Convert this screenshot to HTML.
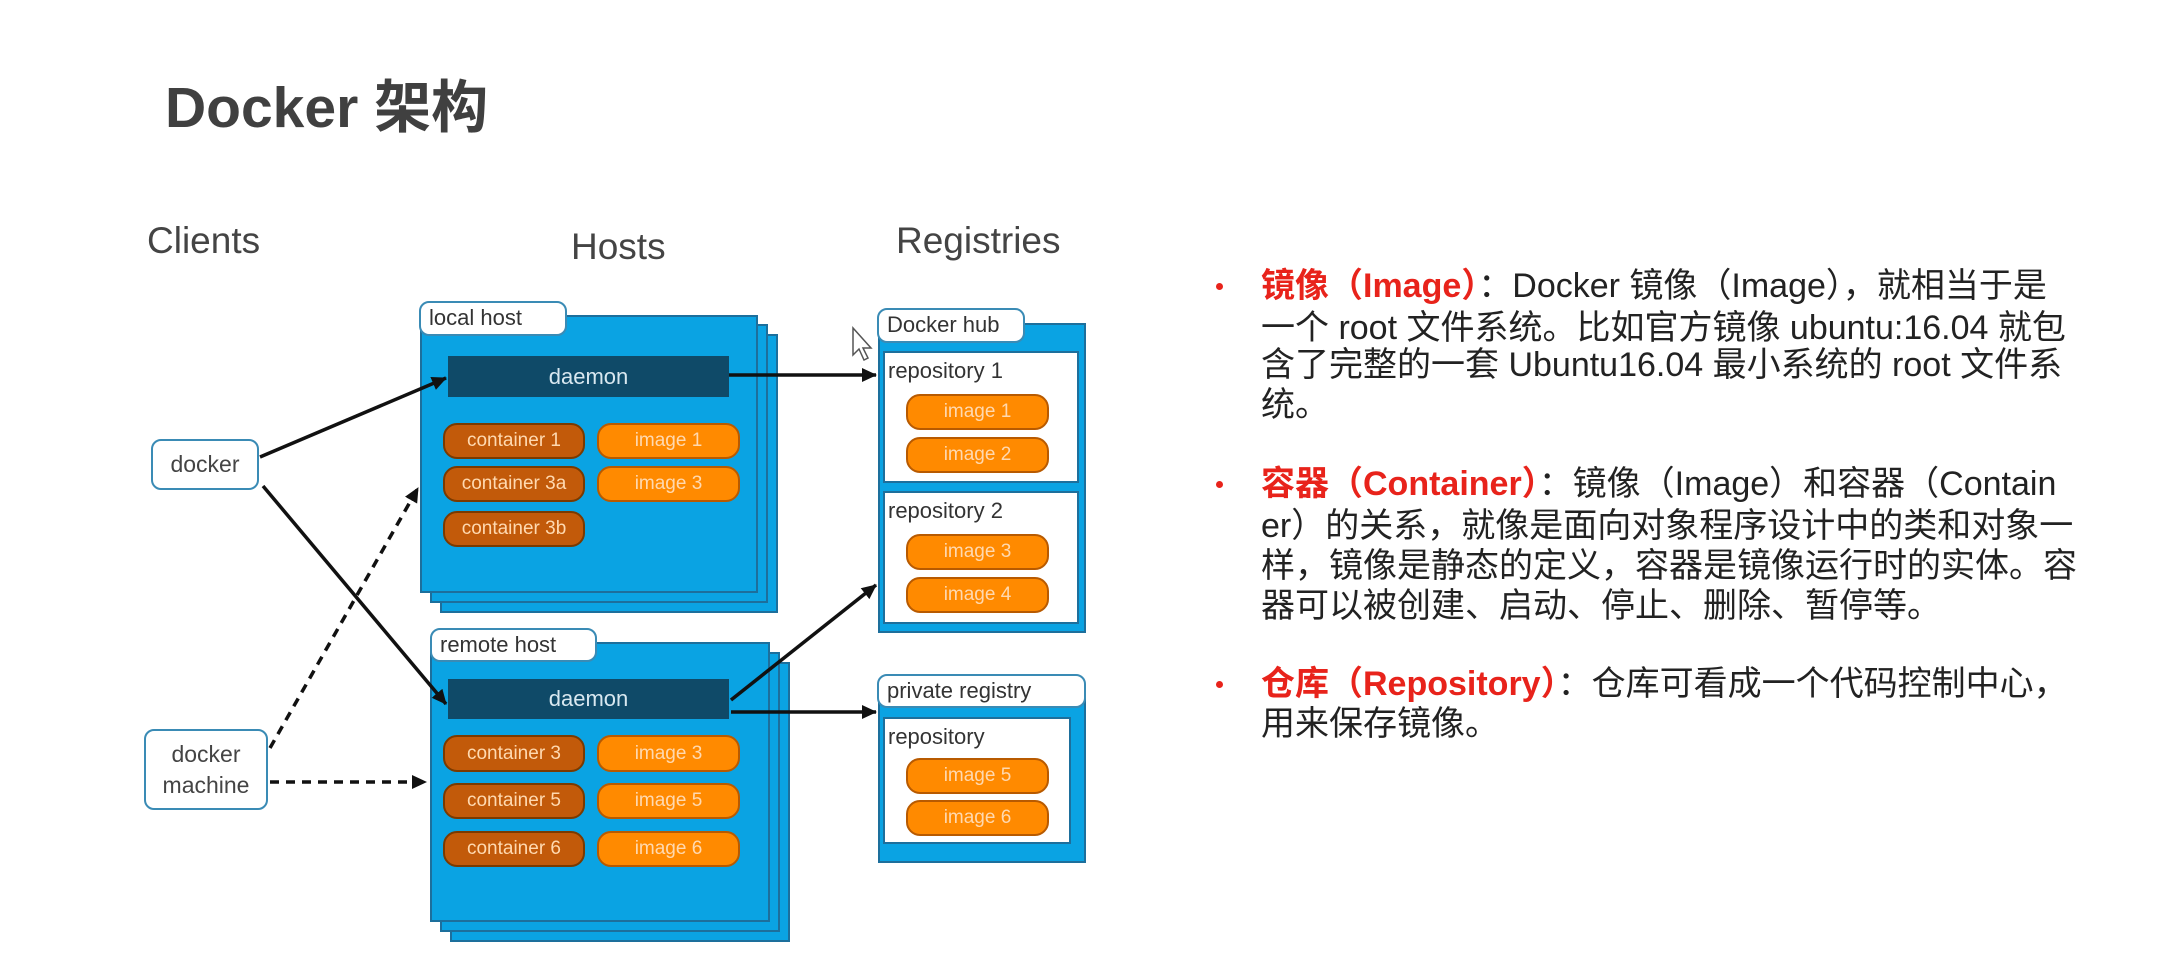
<!DOCTYPE html>
<html><head><meta charset="utf-8"><style>
*{margin:0;padding:0;box-sizing:border-box}
body{width:2164px;height:978px;background:#fff;position:relative;overflow:hidden;font-family:"Liberation Sans","Noto Sans CJK SC",sans-serif}
.a{position:absolute}
.blue{position:absolute;background:#0aa3e3;border:2px solid #1d6f9c}
.tab{position:absolute;background:#fff;border:2px solid #3a8bb5;border-radius:10px;font-size:22px;color:#333;padding-left:8px;line-height:30px}
.dm{position:absolute;background:#0f4a68;color:#d8e8f0;font-size:22px;text-align:center}
.pill{position:absolute;border-radius:14px;color:#ffd9b0;font-size:19px;text-align:center;border:2px solid #7a3a00}
.c{background:#c25a0a}
.i{background:#ff8a00;border-color:#b85a00}
.wb{position:absolute;background:#fff;border:2px solid #1d6f9c}
.lbl{position:absolute;font-size:22px;color:#333}
.cl{position:absolute;background:#fff;border:2px solid #3a8bb5;border-radius:10px;font-size:23px;color:#444;text-align:center}
.hd{position:absolute;font-size:37px;color:#444}
.t{position:absolute;left:1261px;font-size:34px;line-height:50px;color:#222;white-space:nowrap;font-family:"Liberation Sans","Noto Sans CJK SC",sans-serif;letter-spacing:0px}
.r{color:#e8231b;font-weight:bold}
.b{position:absolute;left:1216px;width:7px;height:7px;background:#e8231b;border-radius:50%}
</style></head><body>
<div class="a" style="left:165px;top:62px;font-size:57px;font-weight:bold;color:#404040;white-space:nowrap">Docker 架构</div>

<div class="hd" style="left:147px;top:220px">Clients</div>
<div class="hd" style="left:571px;top:226px">Hosts</div>
<div class="hd" style="left:896px;top:220px">Registries</div>

<div class="blue" style="left:440px;top:334px;width:338px;height:279px"></div>
<div class="blue" style="left:430px;top:324px;width:338px;height:279px"></div>
<div class="blue" style="left:420px;top:315px;width:338px;height:278px"></div>
<div class="tab" style="left:419px;top:301px;width:148px;height:35px">local host</div>
<div class="dm" style="left:448px;top:356px;width:281px;height:41px;line-height:41px">daemon</div>
<div class="pill c" style="left:443px;top:423px;width:142px;height:36px;line-height:32px">container 1</div>
<div class="pill i" style="left:597px;top:423px;width:143px;height:36px;line-height:32px">image 1</div>
<div class="pill c" style="left:443px;top:466px;width:142px;height:36px;line-height:32px">container 3a</div>
<div class="pill i" style="left:597px;top:466px;width:143px;height:36px;line-height:32px">image 3</div>
<div class="pill c" style="left:443px;top:511px;width:142px;height:36px;line-height:32px">container 3b</div>

<div class="blue" style="left:450px;top:662px;width:340px;height:280px"></div>
<div class="blue" style="left:440px;top:652px;width:340px;height:280px"></div>
<div class="blue" style="left:430px;top:642px;width:340px;height:280px"></div>
<div class="tab" style="left:430px;top:628px;width:167px;height:34px">remote host</div>
<div class="dm" style="left:448px;top:679px;width:281px;height:40px;line-height:40px">daemon</div>
<div class="pill c" style="left:443px;top:735px;width:142px;height:37px;line-height:33px">container 3</div>
<div class="pill i" style="left:597px;top:735px;width:143px;height:37px;line-height:33px">image 3</div>
<div class="pill c" style="left:443px;top:783px;width:142px;height:36px;line-height:32px">container 5</div>
<div class="pill i" style="left:597px;top:783px;width:143px;height:36px;line-height:32px">image 5</div>
<div class="pill c" style="left:443px;top:831px;width:142px;height:36px;line-height:32px">container 6</div>
<div class="pill i" style="left:597px;top:831px;width:143px;height:36px;line-height:32px">image 6</div>

<div class="blue" style="left:878px;top:323px;width:208px;height:310px"></div>
<div class="tab" style="left:877px;top:308px;width:148px;height:35px">Docker hub</div>
<div class="wb" style="left:883px;top:351px;width:196px;height:132px"></div>
<div class="lbl" style="left:888px;top:358px">repository 1</div>
<div class="pill i" style="left:906px;top:394px;width:143px;height:36px;line-height:32px">image 1</div>
<div class="pill i" style="left:906px;top:437px;width:143px;height:36px;line-height:32px">image 2</div>
<div class="wb" style="left:883px;top:491px;width:196px;height:133px"></div>
<div class="lbl" style="left:888px;top:498px">repository 2</div>
<div class="pill i" style="left:906px;top:534px;width:143px;height:36px;line-height:32px">image 3</div>
<div class="pill i" style="left:906px;top:577px;width:143px;height:36px;line-height:32px">image 4</div>

<div class="blue" style="left:878px;top:690px;width:208px;height:173px"></div>
<div class="tab" style="left:877px;top:674px;width:209px;height:34px">private registry</div>
<div class="wb" style="left:883px;top:717px;width:188px;height:127px"></div>
<div class="lbl" style="left:888px;top:724px">repository</div>
<div class="pill i" style="left:906px;top:758px;width:143px;height:36px;line-height:32px">image 5</div>
<div class="pill i" style="left:906px;top:800px;width:143px;height:36px;line-height:32px">image 6</div>

<div class="cl" style="left:151px;top:439px;width:108px;height:51px;line-height:47px">docker</div>
<div class="cl" style="left:144px;top:729px;width:124px;height:81px;line-height:31px;padding-top:8px">docker<br>machine</div>

<svg class="a" style="left:0;top:0" width="2164" height="978">
<defs>
<marker id="M" markerWidth="16" markerHeight="16" refX="14" refY="8" orient="auto" markerUnits="userSpaceOnUse"><path d="M0,1 L15,8 L0,15z" fill="#111"/></marker></defs>
<g stroke="#111" stroke-width="3.5" fill="none">
<line x1="260" y1="457" x2="446" y2="378" marker-end="url(#M)"/>
<line x1="263" y1="486" x2="446" y2="704" marker-end="url(#M)"/>
<line x1="270" y1="748" x2="418" y2="488" stroke-dasharray="9,7" marker-end="url(#M)"/>
<line x1="270" y1="782" x2="426" y2="782" stroke-dasharray="9,7" marker-end="url(#M)"/>
<line x1="729" y1="375" x2="876" y2="375" marker-end="url(#M)"/>
<line x1="731" y1="700" x2="876" y2="585" marker-end="url(#M)"/>
<line x1="731" y1="712" x2="876" y2="712" marker-end="url(#M)"/>
</g>
<path d="M853,328 l0,27 l6,-6 l5,11 l4,-2 l-5,-10 l8,0z" fill="#fff" stroke="#555" stroke-width="1.5"/>
</svg>

<div class="b" style="top:283px"></div>
<div class="t" style="top:261px"><span class="r">镜像（Image）</span>：Docker 镜像（Image），就相当于是</div>
<div class="t" style="top:303px">一个 root 文件系统。比如官方镜像 ubuntu:16.04 就包</div>
<div class="t" style="top:340px">含了完整的一套 Ubuntu16.04 最小系统的 root 文件系</div>
<div class="t" style="top:380px">统。</div>

<div class="b" style="top:481px"></div>
<div class="t" style="top:459px"><span class="r">容器（Container）</span>：镜像（Image）和容器（Contain</div>
<div class="t" style="top:501px">er）的关系，就像是面向对象程序设计中的类和对象一</div>
<div class="t" style="top:541px">样，镜像是静态的定义，容器是镜像运行时的实体。容</div>
<div class="t" style="top:581px">器可以被创建、启动、停止、删除、暂停等。</div>

<div class="b" style="top:681px"></div>
<div class="t" style="top:659px"><span class="r">仓库（Repository）</span>：仓库可看成一个代码控制中心，</div>
<div class="t" style="top:699px">用来保存镜像。</div>
</body></html>
